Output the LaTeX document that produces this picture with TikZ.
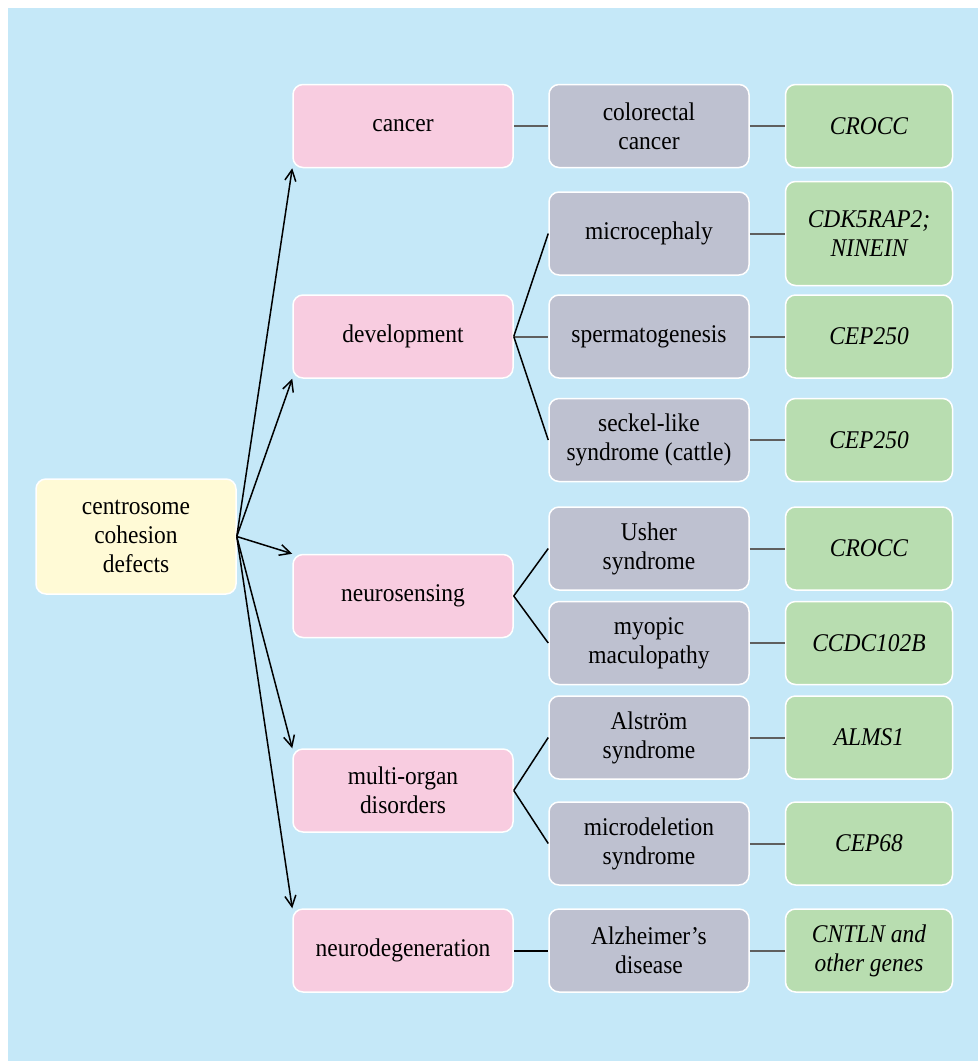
\documentclass[tikz,border=0pt]{standalone}
\usepackage{fontspec}
\setmainfont{Liberation Serif}[FakeStretch=0.92]
\usetikzlibrary{positioning,arrows.meta}
\definecolor{bgblue}{RGB}{197,232,248}
\definecolor{rootyellow}{RGB}{255,250,214}
\definecolor{dispink}{RGB}{248,204,224}
\definecolor{subgray}{RGB}{190,193,208}
\definecolor{genegreen}{RGB}{184,221,176}
\definecolor{linegray}{RGB}{95,95,95}
\begin{document}
\begin{tikzpicture}[x=1pt, y=-1pt, node distance={35pt}, line width=1.5pt,
        box/.style = {draw=white, line width=1.5pt, rounded corners=10pt, align=center, inner sep=0pt, minimum height=83pt, font=\fontsize{25.5}{29}\selectfont},
        root/.style = {box, fill=rootyellow, minimum width=200pt, minimum height=115pt},
        dis/.style = {box, fill=dispink, minimum width=220pt},
        sub/.style = {box, fill=subgray, minimum width=200pt},
        gene/.style = {box, fill=genegreen, minimum width=167pt, font=\fontsize{25.5}{29}\selectfont\itshape},
        link/.style = {draw=linegray, line width=2pt},
        arr/.style = {-{Straight Barb[length=11pt,width=11pt]}}]
        \useasboundingbox (0,0) rectangle (978,1061);
        \fill[bgblue] (8,8) rectangle (978,1061);
        \node[root] (r) at (136,536.5) {centrosome\\cohesion\\defects};
        % disease groups
        \node[dis] (d1) at (403,126) {cancer};
        \node[dis] (d2) at (403,336.5) {development};
        \node[dis] (d3) at (403,596) {neurosensing};
        \node[dis] (d4) at (403,790.5) {multi-organ\\disorders};
        \node[dis] (d5) at (403,950.5) {neurodegeneration};
        % diseases
        \node[sub] (s1) at (649,126) {colorectal\\cancer};
        \node[sub] (s2) at (649,233.5) {microcephaly};
        \node[sub] (s3) at (649,336.5) {spermatogenesis};
        \node[sub] (s4) at (649,440) {seckel-like\\syndrome (cattle)};
        \node[sub] (s5) at (649,548.5) {Usher\\syndrome};
        \node[sub] (s6) at (649,643) {myopic\\maculopathy};
        \node[sub] (s7) at (649,737.5) {Alstr\"om\\syndrome};
        \node[sub] (s8) at (649,843.5) {microdeletion\\syndrome};
        \node[sub] (s9) at (649,950.5) {Alzheimer's\\disease};
        % genes
        \node[gene] (g1) [right = of s1] {CROCC};
        \node[gene, minimum height=104pt] (g2) [right = of s2] {CDK5RAP2;\\NINEIN};
        \node[gene] (g3) [right = of s3] {CEP250};
        \node[gene] (g4) [right = of s4] {CEP250};
        \node[gene] (g5) [right = of s5] {CROCC};
        \node[gene] (g6) [right = of s6] {CCDC102B};
        \node[gene] (g7) [right = of s7] {ALMS1};
        \node[gene] (g8) [right = of s8] {CEP68};
        \node[gene] (g9) [right = of s9] {CNTLN and\\other genes};
        \draw[arr] (r.east) -- (d1.south west);
        \draw[arr] (r.east) -- (d2.south west);
        \draw[arr] (r.east) -- (d3.north west);
        \draw[arr] (r.east) -- (d4.north west);
        \draw[arr] (r.east) -- (d5.north west);
        \draw[link] (d1) -- (s1);
        \draw[link] (d2) -- (s3);
        \draw (d2.east) -- (s2.west);
        \draw (d2.east) -- (s4.west);
        \draw (d3.east) -- (s5.west);
        \draw (d3.east) -- (s6.west);
        \draw (d4.east) -- (s7.west);
        \draw (d4.east) -- (s8.west);
        \draw[line width=2pt] (d5) -- (s9);
        \foreach \i in {1,...,9}
            \draw[link] (s\i) -- (g\i);
\end{tikzpicture}
\end{document}
